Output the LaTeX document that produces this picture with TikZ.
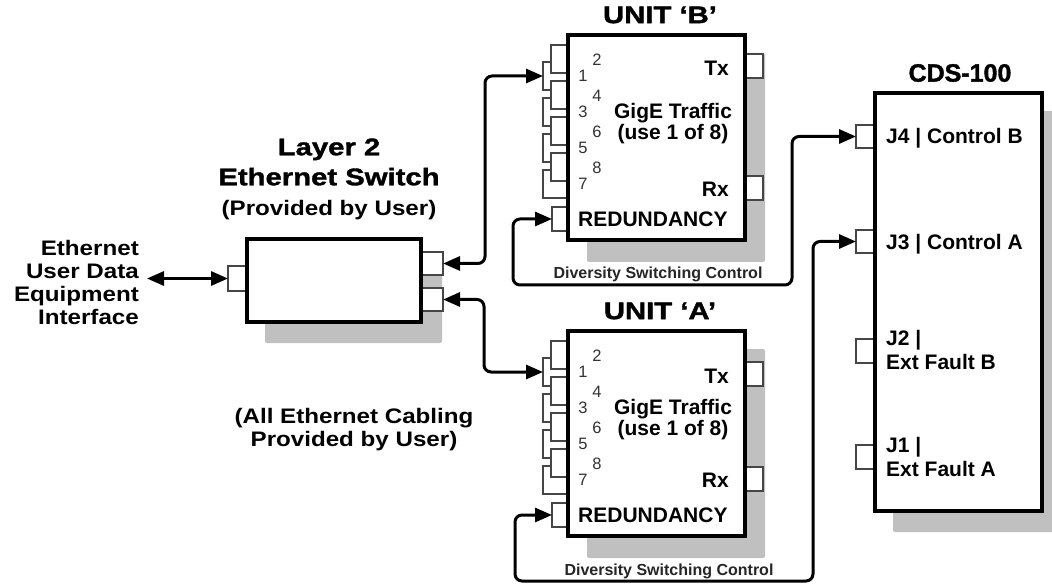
\documentclass[tikz,border=0pt]{standalone}
\usepackage{fontspec}
\setmainfont{Liberation Sans}
\newfontfamily\titlefont[FakeStretch=1.22,FakeBold=1.5]{Liberation Sans}
\newfontfamily\cdsfont[FakeBold=1.5]{Liberation Sans}
\newfontfamily\widefont[FakeStretch=1.15]{Liberation Sans}
\usetikzlibrary{arrows.meta}
\definecolor{shadowc}{RGB}{192,192,192}
\definecolor{portc}{RGB}{70,70,70}
\tikzset{
  box/.style={draw=black, line width=4pt, fill=white, rectangle, inner sep=0pt, outer sep=0pt},
  port/.style={draw=portc, line width=1.3pt, fill=white, rectangle, inner sep=0pt, outer sep=0pt},
  shadowbox/.style={fill=shadowc, rounded corners=2pt},
  conn/.style={line width=3pt, rounded corners=7pt, {Triangle[length=17pt,width=14pt]}-{Triangle[length=17pt,width=14pt]}},
  txt/.style={font=\bfseries\fontsize{21}{21}\selectfont, inner sep=0pt},
  jtxt/.style={font=\bfseries\fontsize{21}{24}\selectfont, inner sep=0pt, align=left},
  numlab/.style={font=\fontsize{16.5}{16.5}\selectfont, text=black!80, inner sep=0pt},
  dsc/.style={font=\bfseries\fontsize{16}{16}\selectfont, text=black!85, inner sep=0pt, anchor=base},
  unittitle/.style={font=\titlefont\bfseries\fontsize{24}{30}\selectfont, inner sep=0pt, align=center},
  cdstitle/.style={font=\cdsfont\bfseries\fontsize{25}{30}\selectfont, inner sep=0pt},
  widetxt/.style={font=\widefont\bfseries\fontsize{21}{23}\selectfont, inner sep=0pt},
}
% #1 name, #2 top y, #3 Tx rel top, #4 Rx rel top, #5 label x, #6 title
\newcommand\gigunit[6]{%
  \fill[shadowbox] (587,{#2+18}) rectangle (765,{#2+227});
  \foreach \k/\n in {0/1,1/3,2/5,3/7}
    \node[port, minimum width=25pt, minimum height=28pt, anchor=north west] (#1p\n) at (543,{#2+27+36*\k}) {};
  \foreach \k/\n in {0/2,1/4,2/6,3/8}
    \node[port, minimum width=17pt, minimum height=28pt, anchor=north west] (#1p\n) at (551,{#2+10+36*\k}) {};
  \node[port, minimum width=16pt, minimum height=24pt, anchor=north west] (#1red) at (552,{#2+172}) {};
  \node[port, minimum width=18pt, minimum height=24pt, anchor=north west] (#1tx) at (745,{#2+#3}) {};
  \node[port, minimum width=18pt, minimum height=24pt, anchor=north west] (#1rx) at (745,{#2+#4}) {};
  \node[box, minimum width=177pt, minimum height=205pt, anchor=north west] (#1) at (568,#2) {};
  \foreach \k/\e/\o in {0/2/1,1/4/3,2/6/5,3/8/7} {
    \node[numlab] (#1n\e) at (597,{#2+25+36*\k}) {\e};
    \node[numlab] (#1n\o) at (583,{#2+41+36*\k}) {\o};
  }
  \node[txt, anchor=east] (#1txl) at (729,{#2+#3+14}) {Tx};
  \node[txt, anchor=east] (#1rxl) at (729,{#2+#4+13}) {Rx};
  \node[txt, align=center] (#1gig) at (673,{#2+89}) {GigE Traffic\\(use 1 of 8)};
  \node[txt, anchor=west] (#1redl) at (578,{#2+184}) {REDUNDANCY};
  \node[unittitle] (#1t) at (660,{#2-20}) {#6};
  \node[dsc] (#1dsc) at (#5,{#2+244}) {Diversity Switching Control};
}
\begin{document}
\begin{tikzpicture}[x=1pt,y=-1pt]
\useasboundingbox (0,0) rectangle (1052,585);
\clip (0,0) rectangle (1052,585);
\fill[white] (0,0) rectangle (1052,585);

% Units
\gigunit{B}{35}{19}{141}{658}{UNIT ‘B’}
\gigunit{A}{331}{31}{136}{669}{UNIT ‘A’}

% Switch
\fill[shadowbox] (265,257) rectangle (442,343);
\node[port, minimum width=19pt, minimum height=25pt, anchor=north west] (swL) at (228,266) {};
\node[port, minimum width=21pt, minimum height=23pt, anchor=north west] (swR1) at (422,252) {};
\node[port, minimum width=21pt, minimum height=23pt, anchor=north west] (swR2) at (422,288) {};
\node[box, minimum width=174pt, minimum height=83pt, anchor=north west] (sw) at (247,239) {};
\node[unittitle] (swt) at (329,162) {Layer 2\\Ethernet Switch};
\node[widetxt, anchor=base] (sws) at (329,215.5) {(Provided by User)};

% CDS-100
\fill[shadowbox] (893,111) rectangle (1062,532);
\node[port, minimum width=19pt, minimum height=23pt, anchor=north west] (J4) at (856,125) {};
\node[port, minimum width=19pt, minimum height=23pt, anchor=north west] (J3) at (856,230) {};
\node[port, minimum width=19pt, minimum height=24pt, anchor=north west] (J2) at (856,339) {};
\node[port, minimum width=19pt, minimum height=24pt, anchor=north west] (J1) at (856,445) {};
\node[box, minimum width=167pt, minimum height=418pt, anchor=north west] (cds) at (875,93) {};
\node[cdstitle] (cdst) at (960,73) {CDS-100};
\node[jtxt, anchor=base west] (J4l) at (886,143.5) {J4 | Control B};
\node[jtxt, anchor=base west] (J3l) at (886,249.5) {J3 | Control A};
\node[jtxt, anchor=north west] (J2l) at (886,330) {J2 |\\Ext Fault B};
\node[jtxt, anchor=north west] (J1l) at (886,437) {J1 |\\Ext Fault A};

% Left labels
\node[widetxt, align=right, anchor=east] (eth) at (139,282.5) {Ethernet\\User Data\\Equipment\\Interface};
\node[widetxt, align=center] (cab) at (354,429.5) {(All Ethernet Cabling\\Provided by User)};

% Connectors
\coordinate (ethend) at (147,278.5);
\draw[conn] (ethend) -- (swL.west);
\draw[conn] (swR1.east) -- ++(42,0) |- (Bp1.west);
\draw[conn] (swR2.east) -- ++(41,0) |- (Ap1.west);
\coordinate (bl1) at (513,285);
\coordinate (bl2) at (792,285);
\draw[conn] (Bred.west) -| (bl1) -- (bl2) |- (J4.west);
\coordinate (al1) at (515,581);
\coordinate (al2) at (813,581);
\draw[conn] (Ared.west) -| (al1) -- (al2) |- (J3.west);
\end{tikzpicture}
\end{document}
